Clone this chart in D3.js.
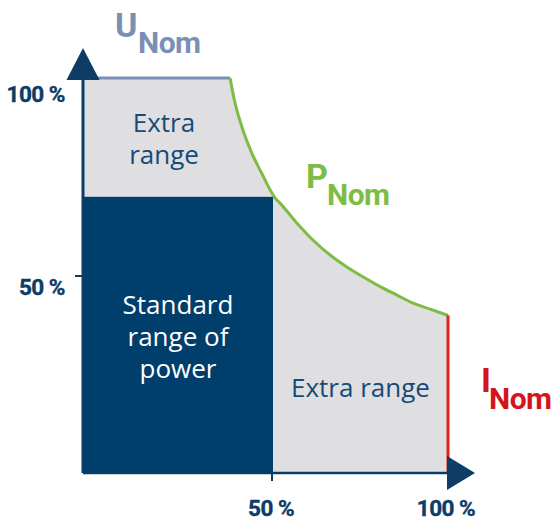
<!DOCTYPE html>
<html>
<head>
<meta charset="utf-8">
<script src="https://cdn.jsdelivr.net/npm/d3@7"></script>
<style>
html,body{margin:0;padding:0;background:#fff;}
svg{display:block;}
</style>
</head>
<body>
<svg id="chart" width="557" height="521"></svg>
<script>
// ---- data ----
const curveI = [38.7, 40.0, 41.8, 44.4, 47.0, 50.6, 52.0, 56.8, 61.4, 66.3, 71.1, 75.7, 80.6, 85.3, 90.0, 94.9, 100];
const curveU = [100, 93.7, 87.7, 81.1, 76.0, 69.7, 68.4, 63.4, 59.1, 55.3, 52.3, 49.8, 47.3, 45.2, 43.1, 41.6, 40];
const standardI = [0, 50];
const standardU = [0, 70];
const xTickValues = [50, 100];
const xTickLabels = ["50 %", "100 %"];
const yTickValues = [50, 100];
const yTickLabels = ["50 %", "100 %"];
const labelU = ["U", "Nom"];
const labelP = ["P", "Nom"];
const labelI = ["I", "Nom"];
const extraTopLines = ["Extra", "range"];
const standardLines = ["Standard", "range of", "power"];
const extraRightLines = ["Extra range"];

// ---- scales (schematic, piecewise linear) ----
const x = d3.scaleLinear().domain([0, 50, 100]).range([83, 273, 448]);
const y = d3.scaleLinear().domain([0, 50, 100]).range([473, 276, 78]);

const svg = d3.select("#chart");
const DARK = "#003e6b", AXIS = "#0d3c66", GRAY = "#dfdfe1";
const GREEN = "#7dbd44", RED = "#e0221b", UBLUE = "#7b8fb5";
const curvePts = curveI.map((d, i) => [d, curveU[i]]);

const curveLine = d3.line().x(d => x(d[0])).y(d => y(d[1])).curve(d3.curveMonotoneX);
const curvePath = curveLine(curvePts);
// gray extra region: straight edges + smooth P curve
const areaPath = `M${x(0)},${y(0)}L${x(0)},${y(100)}L${x(curveI[0])},${y(curveU[0])}` +
  curvePath.replace(/^M[^CL]*/, "") + `L${x(100)},${y(0)}Z`;
svg.append("path").attr("d", areaPath).attr("fill", GRAY);

// standard range rect
svg.append("rect")
  .attr("x", x(standardI[0])).attr("y", y(standardU[1]))
  .attr("width", x(standardI[1]) - x(standardI[0]))
  .attr("height", y(standardU[0]) - y(standardU[1]))
  .attr("fill", DARK);

// U nom line
svg.append("line")
  .attr("x1", x(0)).attr("x2", x(curveI[0])).attr("y1", y(100)).attr("y2", y(100))
  .attr("stroke", UBLUE).attr("stroke-width", 3);
// P nom curve
svg.append("path").attr("d", curvePath).attr("fill", "none")
  .attr("stroke", GREEN).attr("stroke-width", 3);
// I nom line
svg.append("line")
  .attr("x1", x(100)).attr("x2", x(100)).attr("y1", y(curveU[curveU.length-1])).attr("y2", y(0))
  .attr("stroke", RED).attr("stroke-width", 3);

// axes
svg.append("line").attr("x1", x(0)).attr("x2", x(0)).attr("y1", y(0)).attr("y2", y(100))
  .attr("stroke", AXIS).attr("stroke-width", 3);
svg.append("line").attr("x1", x(0)).attr("x2", x(100)).attr("y1", y(0)).attr("y2", y(0))
  .attr("stroke", AXIS).attr("stroke-width", 2.5);
// arrowheads
const ax0 = x(0), ay100 = y(100);
svg.append("path").attr("d", `M${ax0-16.5},${ay100+2}L${ax0+16.5},${ay100+2}L${ax0},${ay100-30}Z`).attr("fill", AXIS);
const bx100 = x(100), by0 = y(0);
svg.append("path").attr("d", `M${bx100-1},${by0-17}L${bx100-1},${by0+17}L${bx100+27},${by0}Z`).attr("fill", AXIS);

// ticks
const tickFont = "Roboto, 'Liberation Sans', sans-serif";
svg.selectAll(".ytick").data(yTickValues.filter(v => v < 100)).enter().append("line")
  .attr("x1", x(0) - 8).attr("x2", x(0)).attr("y1", d => y(d)).attr("y2", d => y(d))
  .attr("stroke", AXIS).attr("stroke-width", 2);
svg.selectAll(".xtick").data(xTickValues.filter(v => v < 100)).enter().append("line")
  .attr("x1", d => x(d) - 1).attr("x2", d => x(d) - 1).attr("y1", y(0)).attr("y2", y(0) + 8)
  .attr("stroke", AXIS).attr("stroke-width", 2);
svg.selectAll(".ylab").data(yTickValues).enter().append("text")
  .attr("x", 65).attr("y", d => y(d) + (d === 100 ? 24 : 19))
  .attr("text-anchor", "end").attr("font-family", tickFont).attr("font-weight", 700)
  .attr("font-size", 22.5).attr("fill", AXIS).attr("letter-spacing", -0.5)
  .attr("stroke", AXIS).attr("stroke-width", 0.4)
  .text((d, i) => yTickLabels[i]);
svg.selectAll(".xlab").data(xTickValues).enter().append("text")
  .attr("x", d => x(d) - 2).attr("y", 516)
  .attr("text-anchor", "middle").attr("font-family", tickFont).attr("font-weight", 700)
  .attr("font-size", 22.5).attr("fill", AXIS).attr("letter-spacing", -0.5)
  .attr("stroke", AXIS).attr("stroke-width", 0.4)
  .text((d, i) => xTickLabels[i]);

// subscripted labels
function subLabel(parts, x1, b1, x2, b2, color) {
  const t = svg.append("text").attr("font-family", tickFont).attr("font-weight", 700).attr("fill", color);
  t.append("tspan").attr("x", x1).attr("y", b1).attr("font-size", 34).text(parts[0]);
  t.append("tspan").attr("x", x2).attr("y", b2).attr("font-size", 30)
    .attr("letter-spacing", -0.5).text(parts[1]);
}
subLabel(labelU, 115, 37, 138, 53, UBLUE);
subLabel(labelP, 306, 188, 327, 205, GREEN);
subLabel(labelI, 481, 392, 489, 409, "#d3141c");

// region texts
const regFont = "'Open Sans', 'Noto Sans', sans-serif";
function block(lines, cx, firstBase, lh, color) {
  const t = svg.append("text").attr("text-anchor", "middle").attr("font-family", regFont)
    .attr("font-size", 26).attr("fill", color);
  t.selectAll("tspan").data(lines).enter().append("tspan")
    .attr("x", cx).attr("y", (d, i) => firstBase + i * lh).text(d => d);
}
block(extraTopLines, 164, 132, 32, "#164a78");
block(standardLines, (x(standardI[0]) + x(standardI[1])) / 2, 314, 32, "#ffffff");
block(extraRightLines, (x(50) + x(100)) / 2, 397, 32, "#164a78");
</script>
</body>
</html>
